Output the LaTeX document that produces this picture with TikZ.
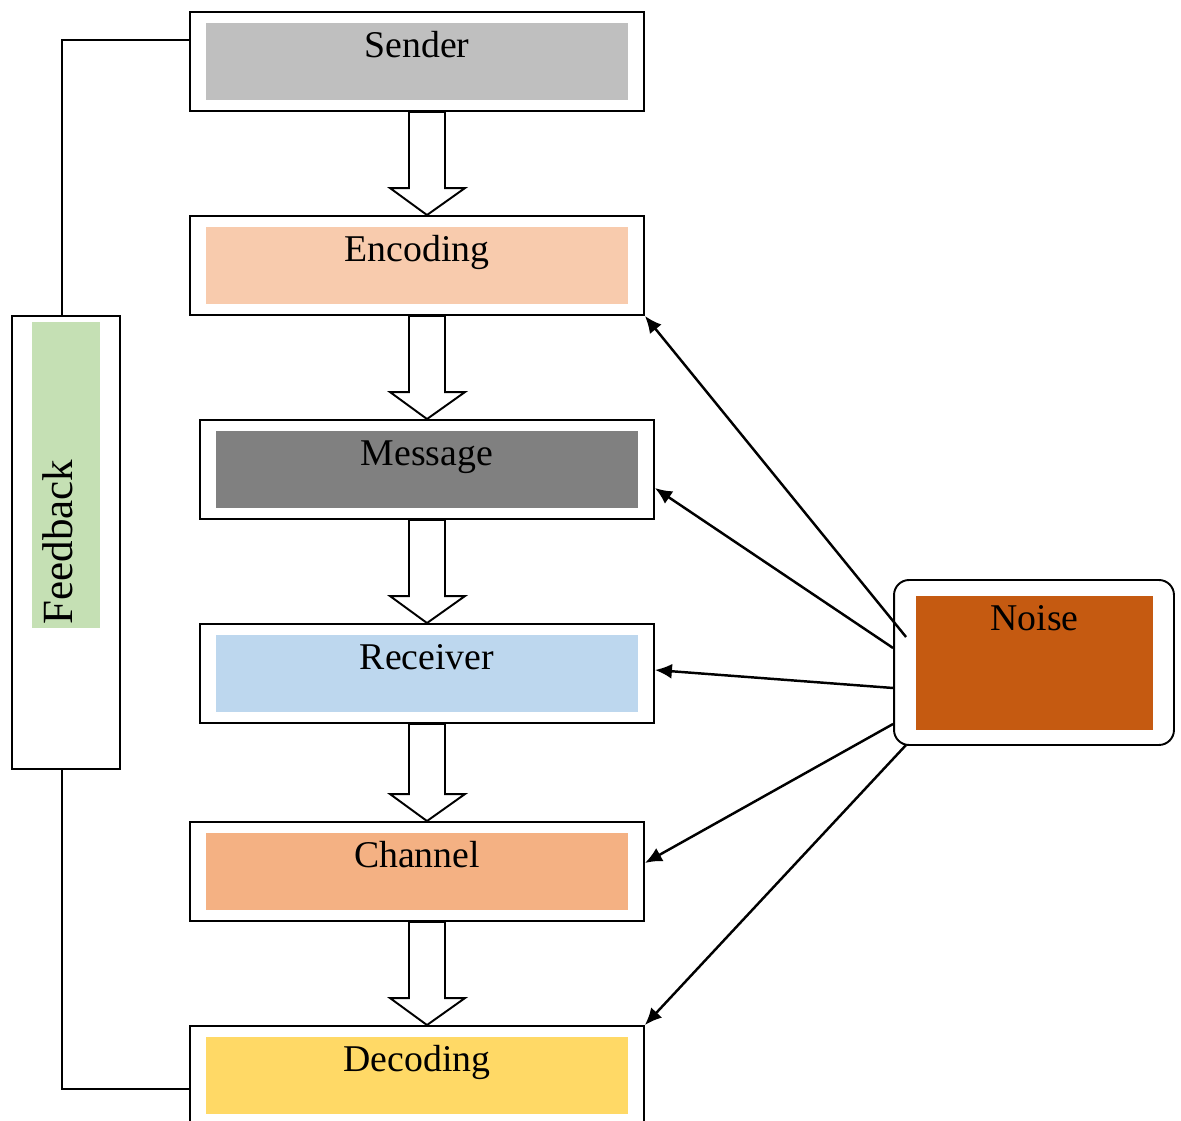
\documentclass[tikz,border=0pt]{standalone}
\usepackage{fontspec}
\setmainfont{Liberation Serif}
\usetikzlibrary{arrows.meta}
\definecolor{sendergray}{RGB}{191,191,191}
\definecolor{encodingpeach}{RGB}{248,203,173}
\definecolor{messagegray}{RGB}{128,128,128}
\definecolor{receiverblue}{RGB}{189,215,238}
\definecolor{channelorange}{RGB}{244,177,131}
\definecolor{decodingyellow}{RGB}{255,217,102}
\definecolor{feedbackgreen}{RGB}{197,224,180}
\definecolor{noiserust}{RGB}{197,90,17}
\tikzstyle{stage} = [draw, fill=white, line width=1.1pt, minimum width=9.08cm, minimum height=1.98cm, inner sep=0pt]
\tikzstyle{panel} = [minimum width=8.44cm, minimum height=1.56cm, inner sep=0pt]
\tikzstyle{caption} = [anchor=base, inner sep=0pt, font=\fontsize{21.5}{26}\selectfont]
\tikzstyle{flow} = [draw, fill=white, line width=1.1pt, line join=miter]
\tikzstyle{noisearrow} = [line width=1.4pt, -{Latex[length=0.34cm,width=0.3cm]}]

% hollow block arrow from the bottom of one stage to the top of the next
\newcommand{\stagearrow}[2]{%
  \coordinate (top) at (#1.south -| spine);
  \coordinate (tip) at (#2.north -| spine);
  \draw[flow] ([xshift=-0.36cm]top) -- ([xshift=-0.36cm,yshift=0.54cm]tip)
    -- ([xshift=-0.74cm,yshift=0.54cm]tip) -- (tip)
    -- ([xshift=0.76cm,yshift=0.54cm]tip) -- ([xshift=0.36cm,yshift=0.54cm]tip)
    -- ([xshift=0.36cm]top) -- cycle;}

\begin{document}
\begin{tikzpicture}[x=0.02cm, y=-0.02cm]
    \useasboundingbox (0,0) rectangle (1181,1121);
    \coordinate (spine) at (427,0);

    % stages
    \node[stage] (sender) at (417,61.5) {};
    \node[panel, fill=sendergray] (senderfill) at (sender) {};
    \node[caption] (sendertext) at ([yshift=-0.7cm]senderfill.north) {Sender};

    \node[stage] (encoding) at (417,265.5) {};
    \node[panel, fill=encodingpeach] (encodingfill) at (encoding) {};
    \node[caption] (encodingtext) at ([yshift=-0.7cm]encodingfill.north) {Encoding};

    \node[stage] (message) at (427,469.5) {};
    \node[panel, fill=messagegray] (messagefill) at (message) {};
    \node[caption] (messagetext) at ([yshift=-0.7cm]messagefill.north) {Message};

    \node[stage] (receiver) at (427,673.5) {};
    \node[panel, fill=receiverblue] (receiverfill) at (receiver) {};
    \node[caption] (receivertext) at ([yshift=-0.7cm]receiverfill.north) {Receiver};

    \node[stage] (channel) at (417,871.5) {};
    \node[panel, fill=channelorange] (channelfill) at (channel) {};
    \node[caption] (channeltext) at ([yshift=-0.7cm]channelfill.north) {Channel};

    \node[stage] (decoding) at (417,1075.5) {};
    \node[panel, fill=decodingyellow] (decodingfill) at (decoding) {};
    \node[caption] (decodingtext) at ([yshift=-0.7cm]decodingfill.north) {Decoding};

    \stagearrow{sender}{encoding}
    \stagearrow{encoding}{message}
    \stagearrow{message}{receiver}
    \stagearrow{receiver}{channel}
    \stagearrow{channel}{decoding}

    % feedback loop on the left
    \node[draw, line width=1.1pt, minimum width=2.16cm, minimum height=9.06cm, inner sep=0pt] (feedback) at (66,542.5) {};
    \node[fill=feedbackgreen, minimum width=1.36cm, minimum height=6.12cm, inner sep=0pt] (feedbackfill) at (66,475) {};
    \node[rotate=90, anchor=base west, inner sep=0pt, font=\fontsize{24.5}{29}\selectfont] (feedbacktext) at (72,625) {Feedback};
    \draw[line width=1.1pt] ([yshift=0.43cm]sender.west) -| ([xshift=-0.08cm]feedback.north);
    \draw[line width=1.1pt] ([xshift=-0.08cm]feedback.south) |- ([yshift=-0.27cm]decoding.west);

    % noise source
    \node[draw, fill=white, rounded corners=0.3cm, line width=1.1pt, minimum width=5.6cm, minimum height=3.3cm, inner sep=0pt] (noise) at (1034,662.5) {};
    \node[fill=noiserust, minimum width=4.74cm, minimum height=2.68cm, inner sep=0pt] (noisefill) at (1034.5,663) {};
    \node[caption] (noisetext) at ([yshift=-0.7cm]noisefill.north) {Noise};

    \coordinate (n1) at ([shift={(13,-25.5)}]noise.west);
    \coordinate (n2) at ([shift={(0,-14.5)}]noise.west);
    \coordinate (n3) at ([shift={(0,25.5)}]noise.west);
    \coordinate (n4) at ([shift={(0,61.5)}]noise.west);
    \coordinate (n5) at ([shift={(13,82.5)}]noise.west);
    \draw[noisearrow] (n1) -- (encoding.south east);
    \draw[noisearrow] (n2) -- ([yshift=-0.37cm]message.east);
    \draw[noisearrow] (n3) -- ([yshift=0.07cm]receiver.east);
    \draw[noisearrow] (n4) -- ([yshift=0.17cm]channel.east);
    \draw[noisearrow] (n5) -- (decoding.north east);
\end{tikzpicture}
\end{document}
